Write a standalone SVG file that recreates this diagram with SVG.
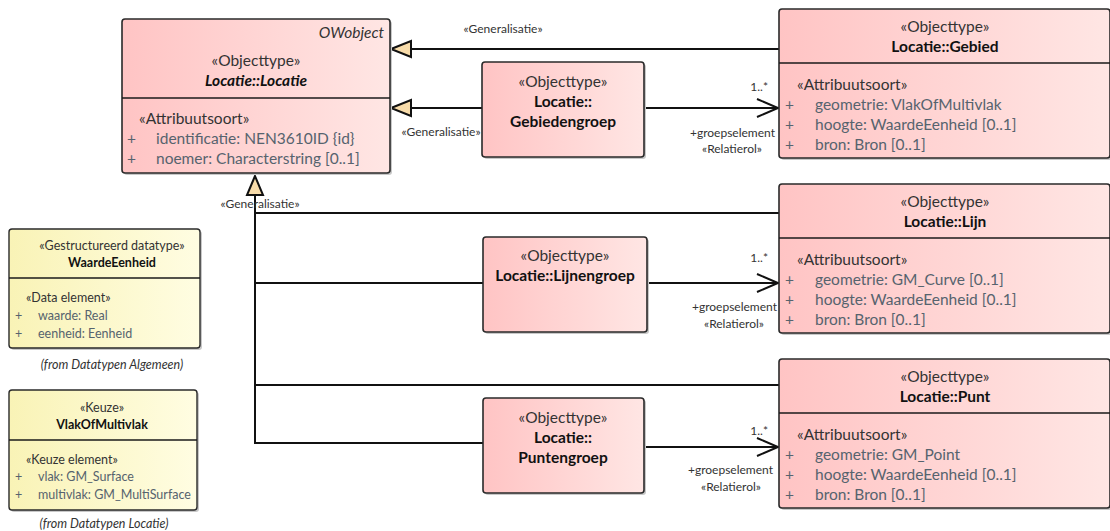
<svg xmlns="http://www.w3.org/2000/svg" width="1110" height="531" viewBox="0 0 1110 531">
<defs>
<linearGradient id="pink" x1="0" y1="0" x2="1" y2="0">
<stop offset="0" stop-color="#ffc4c4"/>
<stop offset="1" stop-color="#ffe6e4"/>
</linearGradient>
<linearGradient id="yel" x1="0" y1="0" x2="1" y2="0">
<stop offset="0" stop-color="#f9f3b6"/>
<stop offset="1" stop-color="#fffde2"/>
</linearGradient>
</defs>
<style>
text{font-family:Lato,"Noto Sans",sans-serif;}
.sh{fill:#c8c8c8;}
.box{fill:url(#pink);stroke:#2a2a2a;stroke-width:1.6;}
.ybox{fill:url(#yel);stroke:#2a2a2a;stroke-width:1.4;}
.div{stroke:#1a1a1a;stroke-width:1.6;}
.st{font-size:15.5px;fill:#333;}
.nm{font-size:15.5px;font-weight:bold;fill:#111;}
.at{font-size:15.5px;fill:#56636e;}
.ys{font-size:12.5px;fill:#333;}
.yn{font-size:12.5px;font-weight:bold;fill:#111;}
.ya{font-size:12.5px;fill:#56636e;}
.fr{font-size:12.5px;font-style:italic;fill:#333;}
.lb{font-size:12px;fill:#333;}
.ln{stroke:#111;stroke-width:2;fill:none;}
.tri{fill:#f8dcaa;stroke:#111;stroke-width:2;}
</style>

<g id="connectors">
<line class="ln" x1="779" y1="49" x2="411" y2="49"/>
<polygon class="tri" points="391,49 411,41 411,57"/>
<line class="ln" x1="482" y1="108" x2="411" y2="108"/>
<polygon class="tri" points="391,108 411,100 411,116"/>
<polyline class="ln" points="779,213 255,213"/>
<polyline class="ln" points="255,195 255,443 483,443"/>
<line class="ln" x1="255" y1="283" x2="483" y2="283"/>
<line class="ln" x1="255" y1="385" x2="779" y2="385"/>
<polygon class="tri" points="255,176 247,195 263,195"/>
<line class="ln" x1="644" y1="108" x2="778" y2="108"/>
<polyline class="ln" points="757,99 778,108 757,117"/>
<line class="ln" x1="647" y1="283" x2="778" y2="283"/>
<polyline class="ln" points="757,274 778,283 757,292"/>
<line class="ln" x1="644" y1="447" x2="778" y2="447"/>
<polyline class="ln" points="757,438 778,447 757,456"/>
<text class="lb" x="503" y="33" text-anchor="middle">«Generalisatie»</text>
<rect x="396" y="124" width="90" height="15" fill="#fff"/>
<text class="lb" x="441" y="136" text-anchor="middle">«Generalisatie»</text>
<text class="lb" x="260" y="208" text-anchor="middle">«Generalisatie»</text>
<text class="lb" x="768" y="91" text-anchor="end">1..*</text>
<text class="lb" x="775" y="137" text-anchor="end">+groepselement</text>
<text class="lb" x="732" y="153" text-anchor="middle">«Relatierol»</text>
<text class="lb" x="768" y="262" text-anchor="end">1..*</text>
<rect x="688" y="300" width="90" height="14" fill="#fff"/>
<text class="lb" x="777" y="311" text-anchor="end">+groepselement</text>
<text class="lb" x="734" y="328" text-anchor="middle">«Relatierol»</text>
<text class="lb" x="768" y="435" text-anchor="end">1..*</text>
<text class="lb" x="773" y="474" text-anchor="end">+groepselement</text>
<text class="lb" x="731" y="491" text-anchor="middle">«Relatierol»</text>
</g>

<g id="locatie">
<rect class="sh" x="124" y="21" width="268" height="154" rx="3"/>
<rect class="box" x="122" y="19" width="268" height="154" rx="3"/>
<line class="div" x1="122" y1="98" x2="390" y2="98"/>
<text class="st" x="384" y="38" text-anchor="end" font-style="italic">OWobject</text>
<text class="st" x="256" y="66" text-anchor="middle">«Objecttype»</text>
<text class="nm" x="256" y="86" text-anchor="middle" font-style="italic">Locatie::Locatie</text>
<text class="st" x="139" y="124">«Attribuutsoort»</text>
<text class="at" x="127" y="144">+</text>
<text class="at" x="156" y="144">identificatie: NEN3610ID {id}</text>
<text class="at" x="127" y="164">+</text>
<text class="at" x="156" y="164">noemer: Characterstring [0..1]</text>
</g>

<g id="gebied">
<rect class="sh" x="781" y="11" width="331" height="149" rx="3"/>
<rect class="box" x="779" y="9" width="331" height="149" rx="3"/>
<line class="div" x1="779" y1="63" x2="1110" y2="63"/>
<text class="st" x="945" y="32" text-anchor="middle">«Objecttype»</text>
<text class="nm" x="945" y="52" text-anchor="middle">Locatie::Gebied</text>
<text class="st" x="797" y="90">«Attribuutsoort»</text>
<text class="at" x="785" y="110">+</text>
<text class="at" x="815" y="110">geometrie: VlakOfMultivlak</text>
<text class="at" x="785" y="130">+</text>
<text class="at" x="815" y="130">hoogte: WaardeEenheid [0..1]</text>
<text class="at" x="785" y="150">+</text>
<text class="at" x="815" y="150">bron: Bron [0..1]</text>
</g>

<g id="lijn">
<rect class="sh" x="781" y="186" width="331" height="149" rx="3"/>
<rect class="box" x="779" y="184" width="331" height="149" rx="3"/>
<line class="div" x1="779" y1="238" x2="1110" y2="238"/>
<text class="st" x="945" y="207" text-anchor="middle">«Objecttype»</text>
<text class="nm" x="945" y="227" text-anchor="middle">Locatie::Lijn</text>
<text class="st" x="797" y="265">«Attribuutsoort»</text>
<text class="at" x="785" y="285">+</text>
<text class="at" x="815" y="285">geometrie: GM_Curve [0..1]</text>
<text class="at" x="785" y="305">+</text>
<text class="at" x="815" y="305">hoogte: WaardeEenheid [0..1]</text>
<text class="at" x="785" y="325">+</text>
<text class="at" x="815" y="325">bron: Bron [0..1]</text>
</g>

<g id="punt">
<rect class="sh" x="781" y="361" width="331" height="149" rx="3"/>
<rect class="box" x="779" y="359" width="331" height="149" rx="3"/>
<line class="div" x1="779" y1="413" x2="1110" y2="413"/>
<text class="st" x="945" y="382" text-anchor="middle">«Objecttype»</text>
<text class="nm" x="945" y="402" text-anchor="middle">Locatie::Punt</text>
<text class="st" x="797" y="440">«Attribuutsoort»</text>
<text class="at" x="785" y="460">+</text>
<text class="at" x="815" y="460">geometrie: GM_Point</text>
<text class="at" x="785" y="480">+</text>
<text class="at" x="815" y="480">hoogte: WaardeEenheid [0..1]</text>
<text class="at" x="785" y="500">+</text>
<text class="at" x="815" y="500">bron: Bron [0..1]</text>
</g>

<g id="gebiedengroep">
<rect class="sh" x="484" y="64" width="162" height="95" rx="3"/>
<rect class="box" x="482" y="62" width="162" height="95" rx="3"/>
<text class="st" x="563" y="87" text-anchor="middle">«Objecttype»</text>
<text class="nm" x="563" y="107" text-anchor="middle">Locatie::</text>
<text class="nm" x="563" y="127" text-anchor="middle">Gebiedengroep</text>
</g>

<g id="lijnengroep">
<rect class="sh" x="485" y="239" width="164" height="95" rx="3"/>
<rect class="box" x="483" y="237" width="164" height="95" rx="3"/>
<text class="st" x="565" y="261" text-anchor="middle">«Objecttype»</text>
<text class="nm" x="565" y="281" text-anchor="middle">Locatie::Lijnengroep</text>
</g>

<g id="puntengroep">
<rect class="sh" x="485" y="400" width="161" height="95" rx="3"/>
<rect class="box" x="483" y="398" width="161" height="95" rx="3"/>
<text class="st" x="563" y="423" text-anchor="middle">«Objecttype»</text>
<text class="nm" x="563" y="443" text-anchor="middle">Locatie::</text>
<text class="nm" x="563" y="463" text-anchor="middle">Puntengroep</text>
</g>

<g id="waardeeenheid">
<rect class="sh" x="11" y="231" width="191" height="119" rx="3"/>
<rect class="ybox" x="9" y="229" width="191" height="119" rx="3"/>
<line class="div" x1="9" y1="278" x2="200" y2="278" stroke-width="1.3"/>
<text class="ys" x="112" y="250" text-anchor="middle">«Gestructureerd datatype»</text>
<text class="yn" x="112" y="267" text-anchor="middle">WaardeEenheid</text>
<text class="ys" x="26" y="302">«Data element»</text>
<text class="ya" x="15" y="320">+</text>
<text class="ya" x="38" y="320">waarde: Real</text>
<text class="ya" x="15" y="338">+</text>
<text class="ya" x="38" y="338">eenheid: Eenheid</text>
<text class="fr" x="112" y="369" text-anchor="middle">(from Datatypen Algemeen)</text>
</g>

<g id="vlakofmultivlak">
<rect class="sh" x="11" y="392" width="188" height="120" rx="3"/>
<rect class="ybox" x="9" y="390" width="188" height="120" rx="3"/>
<line class="div" x1="9" y1="440" x2="197" y2="440" stroke-width="1.3"/>
<text class="ys" x="102" y="412" text-anchor="middle">«Keuze»</text>
<text class="yn" x="102" y="429" text-anchor="middle">VlakOfMultivlak</text>
<text class="ys" x="26" y="464">«Keuze element»</text>
<text class="ya" x="15" y="481">+</text>
<text class="ya" x="38" y="481">vlak: GM_Surface</text>
<text class="ya" x="15" y="499">+</text>
<text class="ya" x="38" y="499">multivlak: GM_MultiSurface</text>
<text class="fr" x="104" y="528" text-anchor="middle">(from Datatypen Locatie)</text>
</g>
</svg>
